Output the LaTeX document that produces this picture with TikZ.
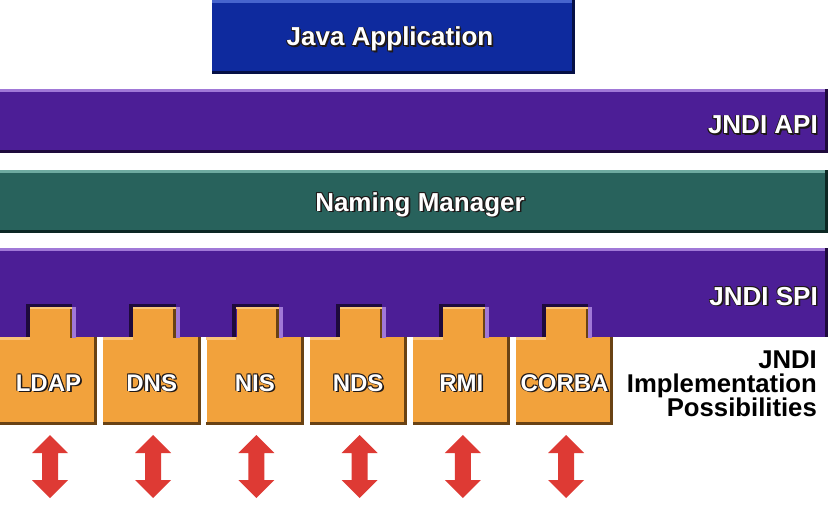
\documentclass[tikz,border=0pt]{standalone}
\usepackage{fontspec}
\setmainfont{Liberation Sans}
\usetikzlibrary{calc}
\definecolor{javablue}{RGB}{14,42,158}
\definecolor{javablueL}{RGB}{70,100,205}
\definecolor{javablueD}{RGB}{6,16,70}
\definecolor{jpurple}{RGB}{76,30,150}
\definecolor{jpurpleL}{RGB}{160,120,215}
\definecolor{jpurpleD}{RGB}{30,10,60}
\definecolor{nmteal}{RGB}{40,98,92}
\definecolor{nmtealL}{RGB}{110,170,160}
\definecolor{nmtealD}{RGB}{12,40,36}
\definecolor{orng}{RGB}{242,162,60}
\definecolor{orngL}{RGB}{250,196,120}
\definecolor{orngD}{RGB}{105,66,20}
\definecolor{arrred}{RGB}{222,58,52}
\definecolor{shadowc}{RGB}{30,24,24}
\newcommand\shofs[3]{\rlap{\kern#1pt\raisebox{#2pt}{\textcolor{shadowc}{#3}}}}
\newcommand\wtext[1]{\shofs{1.6}{-1.6}{#1}\shofs{0.8}{0.8}{#1}\shofs{-0.8}{-0.8}{#1}\shofs{-0.8}{0.8}{#1}\shofs{0.8}{-0.8}{#1}\textcolor{white}{#1}}
\newcommand\mybevel[3]{%
  \fill[#2] (#1.north west) rectangle ([yshift=-3pt]#1.north east);
  \fill[#3] ([yshift=3pt]#1.south west) rectangle (#1.south east);
  \fill[#3] ([xshift=-3pt]#1.north east) rectangle (#1.south east);
}
\begin{document}
\begin{tikzpicture}[x=1pt,y=-1pt,
  layerbox/.style={rectangle, inner sep=0pt, draw=none, anchor=north west},
  lbl/.style={font=\fontsize{26}{26}\selectfont\bfseries, inner sep=0pt},
  boxlbl/.style={font=\fontsize{24}{24}\selectfont\bfseries, inner sep=0pt, anchor=base},
  blk/.style={font=\fontsize{25.7}{24}\selectfont\bfseries, inner sep=0pt, anchor=base east, text=black},
  obox/.style={layerbox, fill=orng, minimum width=97pt, minimum height=88pt},
  otab/.style={rectangle, inner sep=0pt, fill=orng, minimum width=42pt, minimum height=30pt, anchor=south west},
  dblarrow/.pic={\fill[arrred] (0,-31.5) -- (18,-13.5) -- (8,-13.5) -- (8,13.5) -- (18,13.5) -- (0,31.5) -- (-18,13.5) -- (-8,13.5) -- (-8,-13.5) -- (-18,-13.5) -- cycle;}
]
\useasboundingbox (0,0) rectangle (830,508);
\fill[white] (0,0) rectangle (830,508);

% Java Application
\node[layerbox, fill=javablue, minimum width=363pt, minimum height=74pt] (java) at (212,0) {};
\mybevel{java}{javablueL}{javablueD}
\node[lbl, anchor=base] (javal) at (390,46) {\wtext{Java Application}};

% JNDI API
\node[layerbox, fill=jpurple, minimum width=828pt, minimum height=64pt] (api) at (0,89) {};
\mybevel{api}{jpurpleL}{jpurpleD}
\node[lbl, anchor=base east] (apil) at (818,134) {\wtext{JNDI API}};

% Naming Manager
\node[layerbox, fill=nmteal, minimum width=828pt, minimum height=63pt] (nm) at (0,170) {};
\mybevel{nm}{nmtealL}{nmtealD}
\node[lbl, anchor=base] (nml) at (420,211) {\wtext{Naming Manager}};

% JNDI SPI
\node[layerbox, fill=jpurple, minimum width=828pt, minimum height=89pt] (spi) at (0,248) {};
\fill[jpurpleL] (spi.north west) rectangle ([yshift=-3pt]spi.north east);
\fill[jpurpleD] ([xshift=-3pt]spi.north east) rectangle (spi.south east);
\node[lbl, anchor=base east] (spil) at (818,305) {\wtext{JNDI SPI}};

% Implementations
\foreach \i/\nm/\lab in {0/ldap/LDAP,1/dns/DNS,2/nis/NIS,3/nds/NDS,4/rmi/RMI,5/corba/CORBA}{
  \pgfmathsetmacro\xo{103.2*\i}
  \node[obox] (\nm) at (\xo,337) {};
  \node[otab] (\nm t) at (\xo+30,337.5) {};
  % notch shadows in purple
  \fill[jpurpleD] ([xshift=-4pt,yshift=3pt]\nm t.north west) rectangle ([yshift=-0.5pt]\nm t.south west);
  \fill[jpurpleD] ([xshift=-4pt,yshift=3pt]\nm t.north west) rectangle (\nm t.north east);
  \fill[jpurpleL] (\nm t.north east) rectangle ([xshift=4pt,yshift=-0.5pt]\nm t.south east);
  \fill[orngD] ([xshift=-2.5pt]\nm t.north east) rectangle (\nm t.south east);
  \fill[orngL] (\nm.north west) rectangle ([yshift=-2pt]\nm t.south west);
  \fill[orngL] (\nm t.north west) rectangle ([yshift=-2pt]\nm t.north east -| \nm t.north east);
  \fill[orngD] ([yshift=3pt]\nm.south west) rectangle (\nm.south east);
  \fill[orngD] ([xshift=-3pt]\nm.north east) rectangle (\nm.south east);
  \node[boxlbl] (\nm l) at (\xo+48.5,391) {\wtext{\lab}};
  \coordinate (\nm a) at (\xo+50,466.5);
  \pic at (\nm a) {dblarrow};
}

\node[blk] (impl1) at (817,368) {JNDI};
\node[blk] (impl2) at (817,392) {Implementation};
\node[blk] (impl3) at (817,416) {Possibilities};
\end{tikzpicture}
\end{document}
